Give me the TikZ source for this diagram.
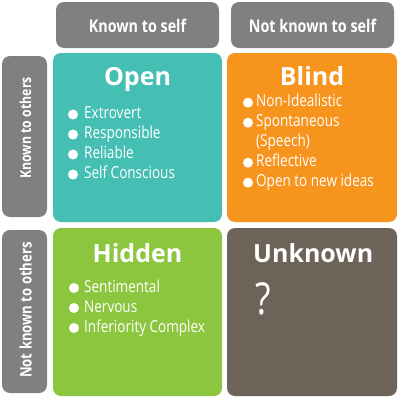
\documentclass[tikz,border=0pt]{standalone}
\usepackage{fontspec}
\setmainfont{Open Sans}
\newfontfamily\condfont[FakeStretch=0.82]{Open Sans}
\definecolor{hdrgray}{HTML}{808083}
\definecolor{openteal}{HTML}{45BFB3}
\definecolor{blindorange}{HTML}{F7941D}
\definecolor{hiddengreen}{HTML}{8CC63F}
\definecolor{unkbrown}{HTML}{6E6358}
\tikzset{
  panel/.style={rectangle, rounded corners=8pt, inner sep=0pt},
  hdr/.style={panel, fill=hdrgray},
  hdrtext/.style={inner sep=0pt, anchor=base, text=white, font=\condfont\bfseries\fontsize{17.5}{20}\selectfont},
  title/.style={inner sep=0pt, anchor=base, text=white, font=\bfseries\fontsize{25}{28}\selectfont},
  item/.style={inner sep=0pt, anchor=base west, text=white, font=\condfont\fontsize{16.5}{19}\selectfont},
  dot/.style={circle, fill=white, inner sep=0pt, minimum size=10pt}
}
\begin{document}
\begin{tikzpicture}[x=1pt,y=-1pt]
\useasboundingbox (0,0) rectangle (400,400);
% header boxes
\node[hdr, minimum width=163pt, minimum height=46pt] (hks) at (137.5,25) {};
\node[hdr, minimum width=163pt, minimum height=46pt] (hnks) at (312.5,25) {};
\node[hdr, minimum width=45pt, minimum height=161pt] (lko) at (24.5,136.5) {};
\node[hdr, minimum width=45pt, minimum height=163pt] (lnko) at (24.5,311.5) {};
\node[hdrtext] (thks) at (137.5,32) {Known to self};
\node[hdrtext] (thnks) at (312.5,32) {Not known to self};
\node[inner sep=0pt, anchor=base, rotate=90, text=white, font=\condfont\bfseries\fontsize{15}{17}\selectfont] (tlko) at (31,128) {Known to others};
\node[inner sep=0pt, anchor=base, rotate=90, text=white, font=\condfont\bfseries\fontsize{16}{18}\selectfont] (tlnko) at (31.5,310) {Not known to others};
% quadrants
\node[panel, fill=openteal, minimum width=169pt, minimum height=169pt] (open) at (137.5,137.5) {};
\node[panel, fill=blindorange, minimum width=170pt, minimum height=169pt] (blind) at (312,137.5) {};
\node[panel, fill=hiddengreen, minimum width=169pt, minimum height=168pt] (hidden) at (137.5,312) {};
\node[panel, fill=unkbrown, minimum width=170pt, minimum height=168pt] (unknown) at (312,312) {};
% Open
\node[title] (topen) at (137.5,85) {Open};
\node[dot] (o1) at (73,114.5) {};
\node[dot] (o2) at (73,134.5) {};
\node[dot] (o3) at (73,154.5) {};
\node[dot] (o4) at (73,174.5) {};
\node[item] (io1) at (84,118.5) {Extrovert};
\node[item] (io2) at (84,138.5) {Responsible};
\node[item] (io3) at (84,158.5) {Reliable};
\node[item] (io4) at (84,178.5) {Self Conscious};
% Blind
\node[title] (tblind) at (312,85) {Blind};
\node[dot] (b1) at (248,102.7) {};
\node[dot] (b2) at (248,122.7) {};
\node[dot] (b3) at (248,162.7) {};
\node[dot] (b4) at (248,182.7) {};
\node[item] (ib1) at (256,106.7) {Non-Idealistic};
\node[item] (ib2) at (256,126.7) {Spontaneous};
\node[item] (ib2b) at (256,146.7) {(Speech)};
\node[item] (ib3) at (256,166.7) {Reflective};
\node[item] (ib4) at (256,186.7) {Open to new ideas};
% Hidden
\node[title] (thidden) at (137.5,262) {Hidden};
\node[dot] (h1) at (74,288) {};
\node[dot] (h2) at (74,308) {};
\node[dot] (h3) at (74,328) {};
\node[item] (ih1) at (84,292) {Sentimental};
\node[item] (ih2) at (84,312) {Nervous};
\node[item] (ih3) at (84,332) {Inferiority Complex};
% Unknown
\node[title, anchor=base west] (tunknown) at (253,262) {Unknown};
\node[inner sep=0pt, anchor=base west, text=white, font=\condfont\fontsize{44}{48}\selectfont] (q) at (255,314) {?};
\end{tikzpicture}
\end{document}
